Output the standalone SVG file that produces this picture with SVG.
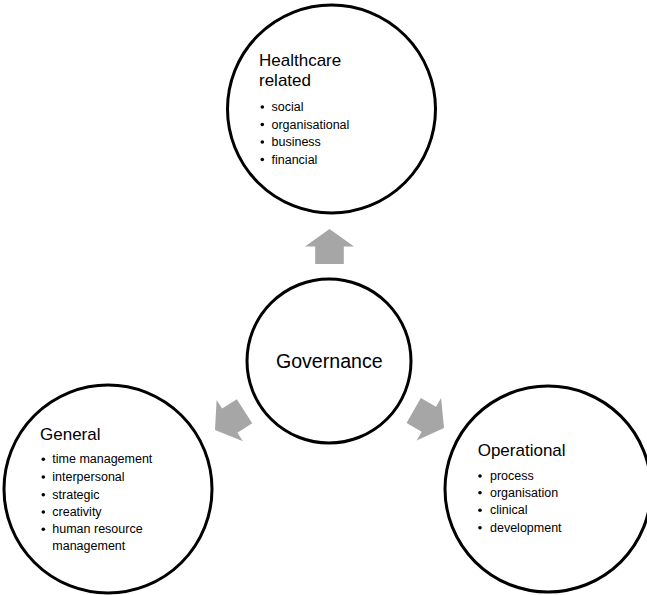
<svg xmlns="http://www.w3.org/2000/svg" width="647" height="595" viewBox="0 0 647 595">
<style>
.c{fill:#fff;stroke:#000;stroke-width:3}
.h{font-family:"Liberation Sans",Arial,sans-serif;font-size:17px;fill:#000}
.t{font-family:"Liberation Sans",Arial,sans-serif;font-size:12.5px;fill:#000}
.g{font-family:"Liberation Sans",Arial,sans-serif;font-size:19.6px;fill:#000}
.b{fill:#000}
.a{fill:#a6a6a6}
</style>
<defs>
<polygon id="arr" points="0,0 -17.5,-24.5 -17.5,-14.3 -35,-14.3 -35,14.3 -17.5,14.3 -17.5,24.5"/>
</defs>
<rect width="647" height="595" fill="#fff"/>
<g id="connectors">
<use href="#arr" class="a" transform="translate(329.5,229) rotate(-90)"/>
<use href="#arr" class="a" transform="translate(215,430) rotate(147.5)"/>
<use href="#arr" class="a" transform="translate(444,428) rotate(30)"/>
</g>
<g id="healthcare">
<circle class="c" cx="331.5" cy="109" r="104"/>
<text class="h" x="259" y="66">Healthcare</text>
<text class="h" x="259" y="86">related</text>
<circle class="b" cx="262.3" cy="107" r="1.8"/><text class="t" x="271.5" y="111">social</text>
<circle class="b" cx="262.3" cy="124.5" r="1.8"/><text class="t" x="271.5" y="128.5">organisational</text>
<circle class="b" cx="262.3" cy="142" r="1.8"/><text class="t" x="271.5" y="146">business</text>
<circle class="b" cx="262.3" cy="159.5" r="1.8"/><text class="t" x="271.5" y="163.5">financial</text>
</g>
<g id="governance">
<circle class="c" cx="329" cy="361" r="82"/>
<text class="g" x="329.3" y="368" text-anchor="middle">Governance</text>
</g>
<g id="general">
<circle class="c" cx="108" cy="489" r="104"/>
<text class="h" x="40" y="440">General</text>
<circle class="b" cx="43.3" cy="459.3" r="1.8"/><text class="t" x="52.3" y="463.3">time management</text>
<circle class="b" cx="43.3" cy="477" r="1.8"/><text class="t" x="52.3" y="481">interpersonal</text>
<circle class="b" cx="43.3" cy="494.7" r="1.8"/><text class="t" x="52.3" y="498.7">strategic</text>
<circle class="b" cx="43.3" cy="512" r="1.8"/><text class="t" x="52.3" y="516">creativity</text>
<circle class="b" cx="43.3" cy="529.3" r="1.8"/><text class="t" x="52.3" y="533.3">human resource</text>
<text class="t" x="52.3" y="550">management</text>
</g>
<g id="operational">
<circle class="c" cx="548" cy="489" r="103"/>
<text class="h" x="477.7" y="456">Operational</text>
<circle class="b" cx="480" cy="476" r="1.8"/><text class="t" x="490" y="480">process</text>
<circle class="b" cx="480" cy="492.7" r="1.8"/><text class="t" x="490" y="496.7">organisation</text>
<circle class="b" cx="480" cy="510.3" r="1.8"/><text class="t" x="490" y="514.3">clinical</text>
<circle class="b" cx="480" cy="527.7" r="1.8"/><text class="t" x="490" y="531.7">development</text>
</g>
</svg>
